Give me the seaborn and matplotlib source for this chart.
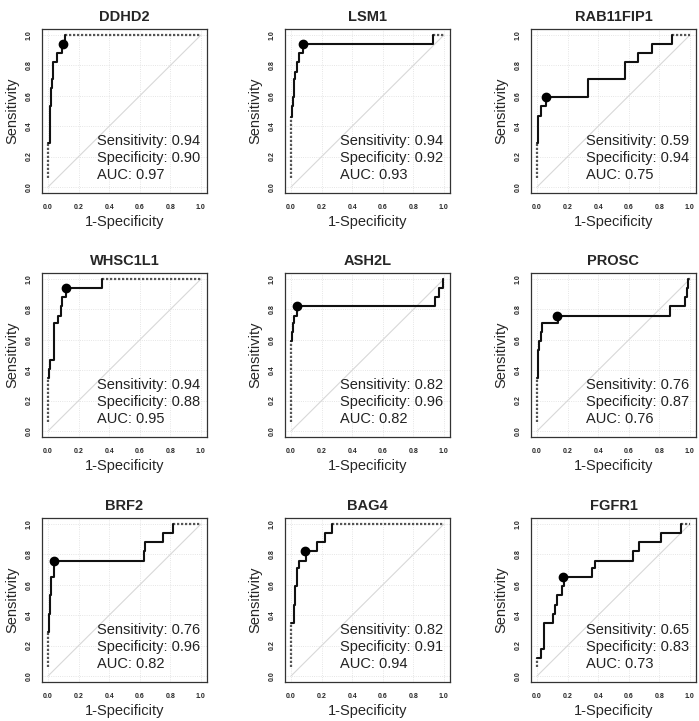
import matplotlib
matplotlib.use("Agg")
import matplotlib.pyplot as plt
import seaborn as sns

# gene names, one ROC curve per panel
genes = ["DDHD2", "LSM1", "RAB11FIP1", "WHSC1L1", "ASH2L", "PROSC", "BRF2", "BAG4", "FGFR1"]

# step vertices of each curve (1-specificity, sensitivity), top of every vertical rise
fpr_ddhd2 = [0, 0.01, 0.012, 0.018, 0.028, 0.033, 0.055, 0.09, 0.11]
tpr_ddhd2 = [0.29, 0.47, 0.53, 0.65, 0.71, 0.82, 0.88, 0.94, 1.0]
fpr_lsm1 = [0, 0.005, 0.012, 0.016, 0.026, 0.037, 0.05, 0.075, 0.93]
tpr_lsm1 = [0.46, 0.53, 0.59, 0.71, 0.76, 0.82, 0.88, 0.94, 1.0]
fpr_rab = [0, 0.007, 0.028, 0.06, 0.33, 0.576, 0.66, 0.75, 0.886]
tpr_rab = [0.29, 0.47, 0.53, 0.59, 0.71, 0.82, 0.88, 0.94, 1.0]
fpr_whsc = [0, 0.007, 0.011, 0.037, 0.066, 0.083, 0.088, 0.12, 0.35]
tpr_whsc = [0.35, 0.41, 0.47, 0.71, 0.76, 0.82, 0.88, 0.94, 1.0]
fpr_ash2l = [0, 0.004, 0.01, 0.02, 0.04, 0.94, 0.967, 0.993]
tpr_ash2l = [0.59, 0.65, 0.71, 0.76, 0.82, 0.88, 0.94, 1.0]
fpr_prosc = [0, 0.004, 0.013, 0.024, 0.035, 0.134, 0.87, 0.965, 0.978, 0.99]
tpr_prosc = [0.35, 0.53, 0.59, 0.65, 0.71, 0.76, 0.82, 0.88, 0.94, 1.0]
fpr_brf2 = [0, 0.007, 0.011, 0.018, 0.04, 0.63, 0.635, 0.75, 0.816]
tpr_brf2 = [0.29, 0.41, 0.53, 0.65, 0.76, 0.82, 0.88, 0.94, 1.0]
fpr_bag4 = [0, 0.02, 0.026, 0.037, 0.052, 0.096, 0.168, 0.22, 0.267]
tpr_bag4 = [0.35, 0.47, 0.59, 0.71, 0.76, 0.82, 0.88, 0.94, 1.0]
fpr_fgfr1 = [0, 0.024, 0.044, 0.105, 0.12, 0.13, 0.16, 0.175, 0.357, 0.38, 0.627, 0.665, 0.81, 0.94]
tpr_fgfr1 = [0.12, 0.18, 0.35, 0.41, 0.47, 0.53, 0.59, 0.65, 0.71, 0.76, 0.82, 0.88, 0.94, 1.0]

fprs = [fpr_ddhd2, fpr_lsm1, fpr_rab, fpr_whsc, fpr_ash2l, fpr_prosc, fpr_brf2, fpr_bag4, fpr_fgfr1]
tprs = [tpr_ddhd2, tpr_lsm1, tpr_rab, tpr_whsc, tpr_ash2l, tpr_prosc, tpr_brf2, tpr_bag4, tpr_fgfr1]

# best threshold statistics
sensitivity = [0.94, 0.94, 0.59, 0.94, 0.82, 0.76, 0.76, 0.82, 0.65]
specificity = [0.90, 0.92, 0.94, 0.88, 0.96, 0.87, 0.96, 0.91, 0.83]
auc = [0.97, 0.93, 0.75, 0.95, 0.82, 0.76, 0.82, 0.94, 0.73]

ticks = [0.0, 0.2, 0.4, 0.6, 0.8, 1.0]
tick_labels = ["0.0", "0.2", "0.4", "0.6", "0.8", "1.0"]

sns.set_style("white")
plt.rcParams['font.family'] = ['Liberation Sans', 'DejaVu Sans']

fig = plt.figure(figsize=(6.99, 7.21), dpi=100)

col_left = [42, 285, 531]
row_top = [29, 273, 518]
W, H = 699, 721
box_w, box_h = 165, 164

for i, gene in enumerate(genes):
    r, c = divmod(i, 3)
    ax = fig.add_axes([col_left[c] / W, 1 - (row_top[r] + box_h) / H, box_w / W, box_h / H])
    ax.set_xlim(-0.04, 1.04)
    ax.set_ylim(-0.04, 1.04)

    # light grid and diagonal reference
    for t in ticks:
        ax.axvline(t, color='#dddddd', lw=0.6, ls=':', zorder=0)
        ax.axhline(t, color='#dddddd', lw=0.6, ls=':', zorder=0)
    ax.plot([0, 1], [0, 1], color='#d8d8d8', lw=0.8, zorder=1)

    fpr = fprs[i]
    tpr = tprs[i]
    # dense low/high threshold parts look dotted in the original
    ax.plot([0, 0], [0.06, tpr[0]], color='#555555', lw=1.6, ls=(0, (1, 0.8)), zorder=2)
    if fpr[-1] < 1:
        ax.plot([fpr[-1], 1], [1, 1], color='#555555', lw=1.6, ls=(0, (1, 0.8)), zorder=2)
    sns.lineplot(x=fpr, y=tpr, ax=ax, sort=False, estimator=None, color='#111111',
                 lw=1.5, drawstyle='steps-post', zorder=3)

    ax.plot([1 - specificity[i]], [sensitivity[i]], 'o', color='black', ms=6, zorder=4)

    ax.text(0.32, 0.30, f"Sensitivity: {sensitivity[i]:.2f}", fontsize=10.5, va='center', color='#222222')
    ax.text(0.32, 0.19, f"Specificity: {specificity[i]:.2f}", fontsize=10.5, va='center', color='#222222')
    ax.text(0.32, 0.08, f"AUC: {auc[i]:.2f}", fontsize=10.5, va='center', color='#222222')

    ax.set_xticks(ticks)
    ax.set_yticks(ticks)
    ax.set_xticklabels(tick_labels, fontsize=5, fontweight='bold')
    ax.set_yticklabels(tick_labels, fontsize=5, fontweight='bold', rotation=90, va='center')
    ax.tick_params(axis='both', direction='out', length=3, width=0.7, color='#333333')
    ax.tick_params(axis='x', pad=5)
    ax.tick_params(axis='y', pad=4)
    for s in ax.spines.values():
        s.set_color('#333333')
        s.set_linewidth(0.9)

    ax.set_title(gene, fontsize=10.5, fontweight='bold', pad=6)
    ax.set_xlabel("1-Specificity", fontsize=10.5, labelpad=3)
    ax.set_ylabel("Sensitivity", fontsize=10.5, labelpad=4)

plt.savefig("out.png", dpi=100)
